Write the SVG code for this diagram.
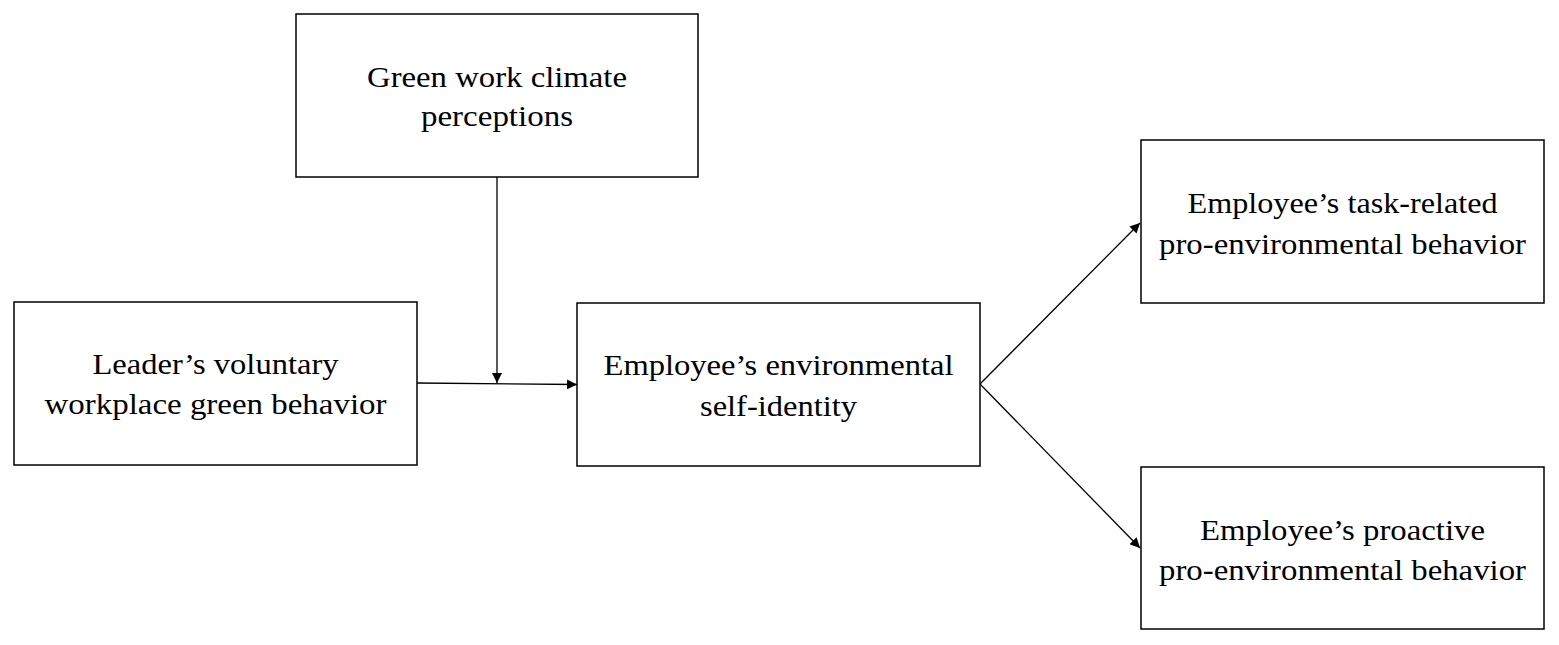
<svg xmlns="http://www.w3.org/2000/svg" width="1559" height="645" viewBox="0 0 1559 645">
<style>
.box{fill:#fff;stroke:#000;stroke-width:1.5}
.t{font-family:"Liberation Serif","Times New Roman",serif;font-size:30px;fill:#000;text-anchor:middle}
.c{stroke:#000;stroke-width:1.3;fill:none;marker-end:url(#ah)}
</style>
<defs>
<marker id="ah" viewBox="0 0 10 10" refX="10" refY="5" markerWidth="10" markerHeight="10" markerUnits="userSpaceOnUse" orient="auto">
<path d="M0,0 L10,5 L0,10 z" fill="#000"/>
</marker>
</defs>
<rect width="1559" height="645" fill="#fff"/>
<g id="connectors">
<line class="c" x1="497" y1="177" x2="497" y2="383"/>
<line class="c" x1="417" y1="383" x2="577" y2="384.5"/>
<line class="c" x1="980" y1="384" x2="1140" y2="223"/>
<line class="c" x1="980" y1="384" x2="1140" y2="548"/>
</g>
<g id="n_climate">
<rect class="box" x="296" y="14" width="402" height="163"/>
<text class="t" x="497" y="87" textLength="260" lengthAdjust="spacingAndGlyphs">Green work climate</text>
<text class="t" x="497" y="126" textLength="152" lengthAdjust="spacingAndGlyphs">perceptions</text>
</g>
<g id="n_leader">
<rect class="box" x="14" y="302" width="403" height="163"/>
<text class="t" x="215.5" y="374" textLength="246" lengthAdjust="spacingAndGlyphs">Leader’s voluntary</text>
<text class="t" x="215.5" y="414" textLength="342" lengthAdjust="spacingAndGlyphs">workplace green behavior</text>
</g>
<g id="n_identity">
<rect class="box" x="577" y="303" width="403" height="163"/>
<text class="t" x="778.5" y="375" textLength="350" lengthAdjust="spacingAndGlyphs">Employee’s environmental</text>
<text class="t" x="778.5" y="416" textLength="157" lengthAdjust="spacingAndGlyphs">self-identity</text>
</g>
<g id="n_task">
<rect class="box" x="1141" y="140" width="403" height="163"/>
<text class="t" x="1342.5" y="213" textLength="310" lengthAdjust="spacingAndGlyphs">Employee’s task-related</text>
<text class="t" x="1342.5" y="254" textLength="367" lengthAdjust="spacingAndGlyphs">pro-environmental behavior</text>
</g>
<g id="n_proactive">
<rect class="box" x="1141" y="467" width="403" height="162"/>
<text class="t" x="1342.5" y="540" textLength="285" lengthAdjust="spacingAndGlyphs">Employee’s proactive</text>
<text class="t" x="1342.5" y="580" textLength="367" lengthAdjust="spacingAndGlyphs">pro-environmental behavior</text>
</g>
</svg>
